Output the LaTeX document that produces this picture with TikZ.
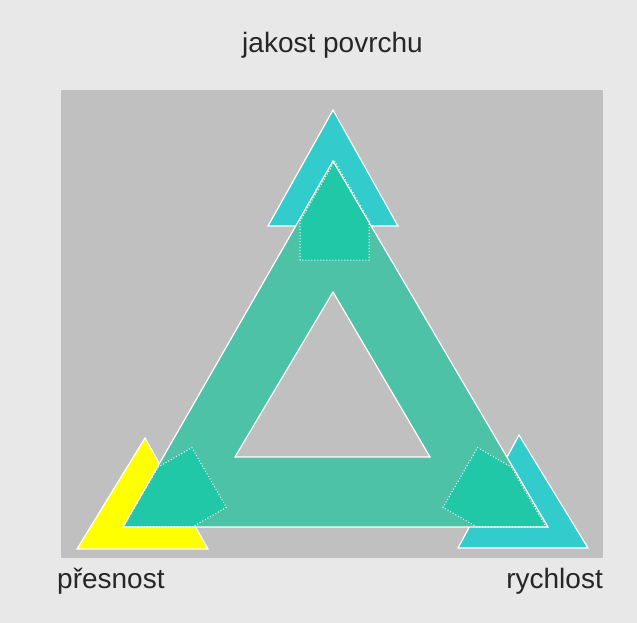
\documentclass[tikz,border=0pt]{standalone}
\usepackage{fontspec}
\setmainfont{Liberation Sans}
\usetikzlibrary{positioning}

\definecolor{pagebg}{HTML}{E8E8E8}
\definecolor{panelgray}{HTML}{C0C0C0}
\definecolor{tealhatch}{HTML}{4EC2A6}
\definecolor{tealsolid}{HTML}{21C8A8}
\definecolor{cyanhead}{HTML}{33CCCC}
\definecolor{yellowhead}{HTML}{FFFF00}

\begin{document}
\begin{tikzpicture}[
  x=1pt, y=-1pt,
  lbl/.style={font=\fontsize{28}{33}\selectfont, inner sep=0pt, text=black!85},
  head/.style={draw=white, line width=1.2pt, line join=miter},
  ring/.style={fill=tealhatch, even odd rule},
  edge/.style={draw=white, line width=1.2pt},
  house/.style={fill=tealsolid, draw=white, line width=1pt, dotted},
]
  % --- page and panel ---
  \fill[pagebg] (0,0) rectangle (637,623);
  \fill[panelgray] (61,90) rectangle (603,558);

  % --- corner points ---
  \coordinate (ta) at (333,161);
  \coordinate (tb) at (123,527);
  \coordinate (tc) at (548,527);
  \coordinate (ia) at (333,292);
  \coordinate (ib) at (235,457);
  \coordinate (ic) at (430,457);
  \coordinate (ctr) at (334.7,405);

  % --- outer heads ---
  \filldraw[head, fill=cyanhead] (333,110) -- (268,226) -- (398,226) -- cycle;
  \filldraw[head, fill=yellowhead] (145,438) -- (77,549) -- (208,549) -- cycle;
  \filldraw[head, fill=cyanhead] (519,435) -- (458,548) -- (588,548) -- cycle;

  % --- triangle ring ---
  \fill[ring] (ta) -- (tb) -- (tc) -- cycle (ia) -- (ib) -- (ic) -- cycle;

  % --- arrows to the corners ---
  \foreach \ang in {0,120,240} {
    \begin{scope}[shift={(334.7,405)}, rotate=\ang]
      \filldraw[house] (0,-244) -- (34.5,-184) -- (34.5,-145)
        -- (-34.5,-145) -- (-34.5,-184) -- cycle;
    \end{scope}
  }

  \draw[edge] (ta) -- (tb) -- (tc) -- cycle;
  \draw[edge] (ia) -- (ib) -- (ic) -- cycle;

  % --- labels ---
  \node[lbl, anchor=base] (quality) at (332.5,53) {jakost povrchu};
  \node[lbl, anchor=base west] (accuracy) at (57,588) {přesnost};
  \node[lbl, anchor=base east] (speed) at (603,588) {rychlost};
\end{tikzpicture}
\end{document}
